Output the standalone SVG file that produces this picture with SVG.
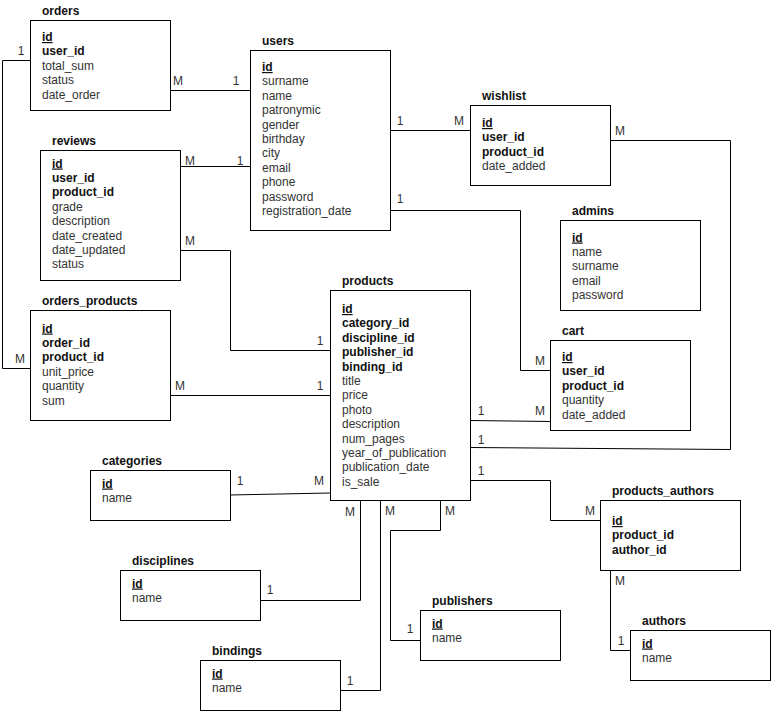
<svg xmlns="http://www.w3.org/2000/svg" width="771" height="711" viewBox="0 0 771 711">
<style>
text{font-family:"Liberation Sans",Arial,sans-serif;font-size:12px}
.t{font-weight:bold;fill:#111}
.k{font-weight:bold;fill:#111}
.u{text-decoration:underline}
.f{fill:#333}
.l{fill:#333;text-anchor:middle}
rect{fill:#fff;stroke:#000;stroke-width:1}
#connectors path{fill:none;stroke:#000;stroke-width:1}
</style>
<rect x="0" y="0" width="771" height="711" style="stroke:none;fill:#fff"/>
<g id="connectors">
<path d="M170,90.5 H250"/>
<path d="M30,60.5 H2.5 V368.5 H30"/>
<path d="M180,166.5 H250"/>
<path d="M180,250.5 H230.5 V350.5 H330"/>
<path d="M170,395.5 H330"/>
<path d="M390,130.5 H470"/>
<path d="M390,210.5 H520.5 V370.5 H550"/>
<path d="M610,140.5 H730.5 V449.5 L470,447.5"/>
<path d="M470,420.5 L550,421.5"/>
<path d="M230,495 L330,493"/>
<path d="M260,600.5 H360.5 V500"/>
<path d="M340,690.5 H380.5 V500"/>
<path d="M420,640.5 H390.5 V530.5 H440.5 V500"/>
<path d="M470,480.5 H550.5 V520.5 H600"/>
<path d="M610.5,570 V650.5 H630"/>
<text class="l" x="178" y="84.5">M</text><text class="l" x="236" y="84.5">1</text>
<text class="l" x="21" y="55">1</text><text class="l" x="20" y="362.5">M</text>
<text class="l" x="190" y="165">M</text><text class="l" x="240" y="165">1</text>
<text class="l" x="190" y="244.5">M</text><text class="l" x="320" y="344.5">1</text>
<text class="l" x="180" y="389.5">M</text><text class="l" x="320" y="389.5">1</text>
<text class="l" x="400" y="125">1</text><text class="l" x="459" y="125">M</text>
<text class="l" x="400" y="203">1</text><text class="l" x="540" y="364.5">M</text>
<text class="l" x="620" y="134.5">M</text><text class="l" x="481" y="444">1</text>
<text class="l" x="481" y="414.5">1</text><text class="l" x="540" y="414.5">M</text>
<text class="l" x="240" y="484.5">1</text><text class="l" x="319" y="484.5">M</text>
<text class="l" x="270" y="593.5">1</text><text class="l" x="350" y="515.5">M</text>
<text class="l" x="350" y="684.5">1</text><text class="l" x="390" y="514.5">M</text>
<text class="l" x="410" y="632.5">1</text><text class="l" x="450" y="514.5">M</text>
<text class="l" x="481" y="474.5">1</text><text class="l" x="590" y="514.5">M</text>
<text class="l" x="620" y="584.5">M</text><text class="l" x="621" y="644.5">1</text>
</g>
<g id="orders">
<text class="t" x="42" y="14.5">orders</text>
<rect x="30.5" y="20.5" width="140" height="90"/>
<text class="k u" x="42" y="41">id</text>
<text class="k" x="42" y="55.4">user_id</text>
<text class="f" x="42" y="69.8">total_sum</text>
<text class="f" x="42" y="84.2">status</text>
<text class="f" x="42" y="98.6">date_order</text>
</g>
<g id="users">
<text class="t" x="262" y="44.5">users</text>
<rect x="250.5" y="50.5" width="140" height="180"/>
<text class="k u" x="262" y="71">id</text>
<text class="f" x="262" y="85.4">surname</text>
<text class="f" x="262" y="99.8">name</text>
<text class="f" x="262" y="114.2">patronymic</text>
<text class="f" x="262" y="128.6">gender</text>
<text class="f" x="262" y="143">birthday</text>
<text class="f" x="262" y="157.4">city</text>
<text class="f" x="262" y="171.8">email</text>
<text class="f" x="262" y="186.2">phone</text>
<text class="f" x="262" y="200.6">password</text>
<text class="f" x="262" y="215">registration_date</text>
</g>
<g id="wishlist">
<text class="t" x="482" y="99.5">wishlist</text>
<rect x="470.5" y="105.5" width="140" height="80"/>
<text class="k u" x="482" y="127">id</text>
<text class="k" x="482" y="141.4">user_id</text>
<text class="k" x="482" y="155.8">product_id</text>
<text class="f" x="482" y="170.2">date_added</text>
</g>
<g id="reviews">
<text class="t" x="52" y="144.5">reviews</text>
<rect x="40.5" y="150.5" width="140" height="130"/>
<text class="k u" x="52" y="167.5">id</text>
<text class="k" x="52" y="181.9">user_id</text>
<text class="k" x="52" y="196.3">product_id</text>
<text class="f" x="52" y="210.7">grade</text>
<text class="f" x="52" y="225.1">description</text>
<text class="f" x="52" y="239.5">date_created</text>
<text class="f" x="52" y="253.9">date_updated</text>
<text class="f" x="52" y="268.3">status</text>
</g>
<g id="orders_products">
<text class="t" x="42" y="304.5">orders_products</text>
<rect x="30.5" y="310.5" width="140" height="110"/>
<text class="k u" x="42" y="332.5">id</text>
<text class="k" x="42" y="346.9">order_id</text>
<text class="k" x="42" y="361.3">product_id</text>
<text class="f" x="42" y="375.7">unit_price</text>
<text class="f" x="42" y="390.1">quantity</text>
<text class="f" x="42" y="404.5">sum</text>
</g>
<g id="products">
<text class="t" x="342" y="284.5">products</text>
<rect x="330.5" y="290.5" width="140" height="210"/>
<text class="k u" x="342" y="313">id</text>
<text class="k" x="342" y="327.4">category_id</text>
<text class="k" x="342" y="341.8">discipline_id</text>
<text class="k" x="342" y="356.2">publisher_id</text>
<text class="k" x="342" y="370.6">binding_id</text>
<text class="f" x="342" y="385">title</text>
<text class="f" x="342" y="399.4">price</text>
<text class="f" x="342" y="413.8">photo</text>
<text class="f" x="342" y="428.2">description</text>
<text class="f" x="342" y="442.6">num_pages</text>
<text class="f" x="342" y="457">year_of_publication</text>
<text class="f" x="342" y="471.4">publication_date</text>
<text class="f" x="342" y="485.8">is_sale</text>
</g>
<g id="admins">
<text class="t" x="572" y="214.5">admins</text>
<rect x="560.5" y="220.5" width="140" height="90"/>
<text class="k u" x="572" y="241.5">id</text>
<text class="f" x="572" y="255.9">name</text>
<text class="f" x="572" y="270.3">surname</text>
<text class="f" x="572" y="284.7">email</text>
<text class="f" x="572" y="299.1">password</text>
</g>
<g id="cart">
<text class="t" x="562" y="334.5">cart</text>
<rect x="550.5" y="340.5" width="140" height="90"/>
<text class="k u" x="562" y="361">id</text>
<text class="k" x="562" y="375.4">user_id</text>
<text class="k" x="562" y="389.8">product_id</text>
<text class="f" x="562" y="404.2">quantity</text>
<text class="f" x="562" y="418.6">date_added</text>
</g>
<g id="categories">
<text class="t" x="102" y="464.5">categories</text>
<rect x="90.5" y="470.5" width="140" height="50"/>
<text class="k u" x="102" y="487.5">id</text>
<text class="f" x="102" y="501.9">name</text>
</g>
<g id="disciplines">
<text class="t" x="132" y="564.5">disciplines</text>
<rect x="120.5" y="570.5" width="140" height="50"/>
<text class="k u" x="132" y="587.5">id</text>
<text class="f" x="132" y="601.9">name</text>
</g>
<g id="publishers">
<text class="t" x="432" y="604.5">publishers</text>
<rect x="420.5" y="610.5" width="140" height="50"/>
<text class="k u" x="432" y="627.5">id</text>
<text class="f" x="432" y="641.9">name</text>
</g>
<g id="products_authors">
<text class="t" x="612" y="494.5">products_authors</text>
<rect x="600.5" y="500.5" width="140" height="70"/>
<text class="k u" x="612" y="525">id</text>
<text class="k" x="612" y="539.4">product_id</text>
<text class="k" x="612" y="553.8">author_id</text>
</g>
<g id="authors">
<text class="t" x="642" y="624.5">authors</text>
<rect x="630.5" y="630.5" width="140" height="50"/>
<text class="k u" x="642" y="647.5">id</text>
<text class="f" x="642" y="661.9">name</text>
</g>
<g id="bindings">
<text class="t" x="212" y="654.5">bindings</text>
<rect x="200.5" y="660.5" width="140" height="50"/>
<text class="k u" x="212" y="677.5">id</text>
<text class="f" x="212" y="691.9">name</text>
</g>
</svg>
